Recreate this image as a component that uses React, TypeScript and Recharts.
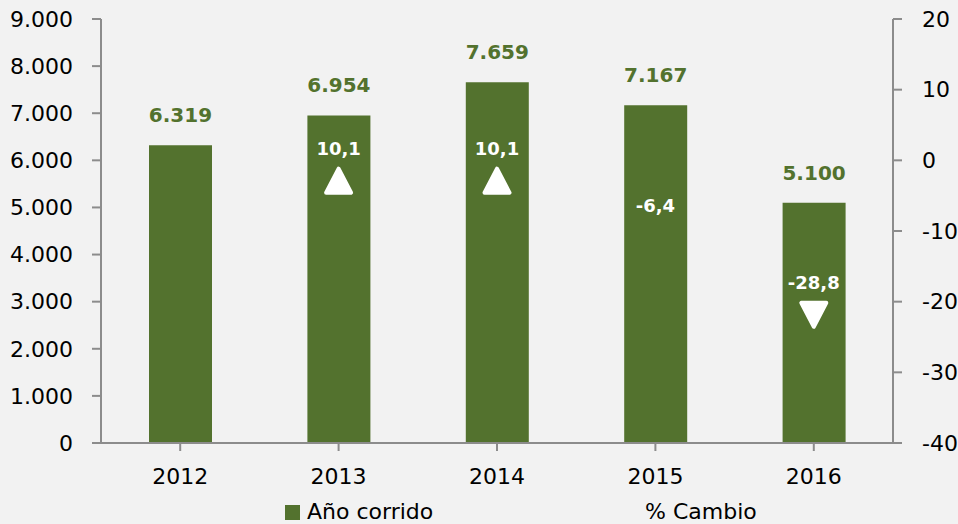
import React from "react";
import { ComposedChart, Bar, Line, XAxis, YAxis, LabelList, Legend } from "recharts";

const years = ["2012", "2013", "2014", "2015", "2016"];
const anoCorrido = [6319, 6954, 7659, 7167, 5100];
const cambio = [null, 10.1, 10.1, -6.4, -28.8];
const leftTicks = [0, 1000, 2000, 3000, 4000, 5000, 6000, 7000, 8000, 9000];
const rightTicks = [-40, -30, -20, -10, 0, 10, 20];

const data = years.map((year, i) => ({ year, ano: anoCorrido[i], cambio: cambio[i] }));

const FONT = "'DejaVu Sans', Verdana, sans-serif";
const GREEN = "#53722e";
const AXIS = "#8c8c8c";

const miles = (v: number) => String(v).replace(/\B(?=(\d{3})+(?!\d))/g, ".");
const coma = (v: number) => v.toFixed(1).replace(".", ",");

// triangles only flag the big moves (10 points or more), like the source
const TriangleDot = (props: any) => {
  const { cx, cy, payload } = props;
  const v = payload?.cambio;
  if (cx == null || cy == null || v == null || Math.abs(v) < 10) return <g />;
  const w = 12.5;
  const h = 12;
  const d =
    v > 0
      ? `M${cx},${cy - h} L${cx + w},${cy + h} L${cx - w},${cy + h} Z`
      : `M${cx - w},${cy - h} L${cx + w},${cy - h} L${cx},${cy + h} Z`;
  return <path d={d} fill="#fff" stroke="#fff" strokeWidth={4} strokeLinejoin="round" />;
};

const PctLabel = (props: any) => {
  const { x, y, value } = props;
  if (value == null || x == null || y == null) return null;
  return (
    <text
      x={x}
      y={y - 32}
      textAnchor="middle"
      dominantBaseline="central"
      fill="#fff"
      fontWeight="bold"
      fontSize={18}
      fontFamily={FONT}
    >
      {coma(value)}
    </text>
  );
};

const LegendBox = () => (
  <div style={{ position: "relative", height: 24, width: 958, fontFamily: FONT, fontSize: 22, color: "#000" }}>
    <span style={{ position: "absolute", left: 285, top: 5, width: 15, height: 15, background: GREEN }} />
    <span style={{ position: "absolute", left: 307, top: 0, lineHeight: "24px", whiteSpace: "nowrap" }}>Año corrido</span>
    <span style={{ position: "absolute", left: 645, top: 0, lineHeight: "24px", whiteSpace: "nowrap" }}>% Cambio</span>
  </div>
);

export default function App() {
  const tick = { fontFamily: FONT, fontSize: 22, fill: "#000" };
  const line = { stroke: AXIS, strokeWidth: 2 };
  return (
    <div style={{ position: "absolute", left: 0, top: 0, width: 958, height: 524, background: "#f2f2f2" }}>
      <ComposedChart width={958} height={524} data={data} margin={{ top: 19, right: 0, bottom: 0, left: 0 }}>
        <XAxis
          dataKey="year"
          interval={0}
          height={57}
          tick={tick}
          tickSize={8}
          tickMargin={17}
          axisLine={line}
          tickLine={line}
        />
        <YAxis
          yAxisId="left"
          domain={[0, 9000]}
          ticks={leftTicks}
          tickFormatter={miles}
          width={101}
          tick={tick}
          tickSize={9}
          tickMargin={19}
          axisLine={line}
          tickLine={line}
        />
        <YAxis
          yAxisId="right"
          orientation="right"
          type="number"
          domain={[-40, 20]}
          allowDataOverflow
          ticks={rightTicks}
          interval={0}
          width={65}
          tick={tick}
          tickSize={9}
          tickMargin={20}
          axisLine={line}
          tickLine={line}
        />
        <YAxis yAxisId="pct" hide domain={[-66, 57]} />
        <Bar yAxisId="left" dataKey="ano" fill={GREEN} barSize={63} isAnimationActive={false}>
          <LabelList
            dataKey="ano"
            position="top"
            offset={23}
            formatter={(v: any) => miles(Number(v))}
            style={{ fontFamily: FONT, fontSize: 20, fontWeight: "bold", fill: GREEN }}
          />
        </Bar>
        <Line
          yAxisId="pct"
          dataKey="cambio"
          stroke="none"
          dot={<TriangleDot />}
          activeDot={false}
          isAnimationActive={false}
        >
          <LabelList dataKey="cambio" content={<PctLabel />} />
        </Line>
        <Legend verticalAlign="bottom" content={<LegendBox />} />
      </ComposedChart>
    </div>
  );
}
